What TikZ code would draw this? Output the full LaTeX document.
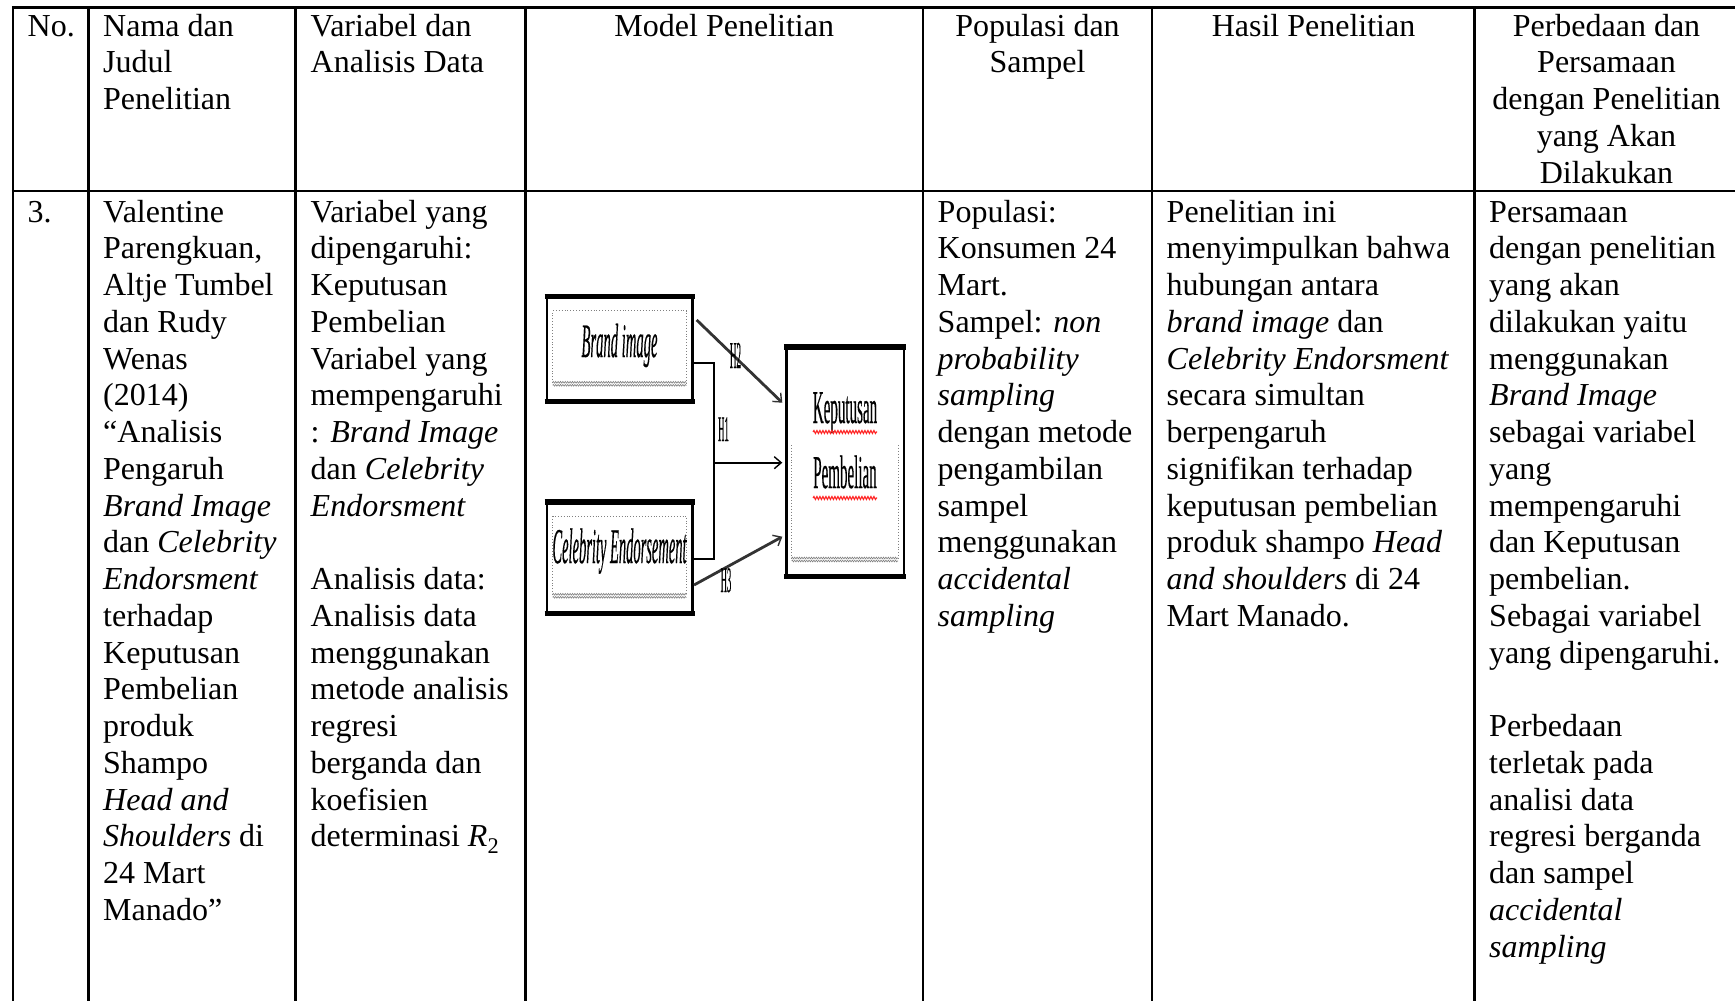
\documentclass[tikz,border=0pt]{standalone}
\usepackage{fontspec}
\setmainfont{Liberation Serif}
\newfontfamily\modelfont[FakeBold=0.6]{Liberation Serif}
\usepackage{graphicx}
\usetikzlibrary{arrows.meta,decorations.pathmorphing}

\newcommand\bodyfont{\fontsize{32}{36.75}\selectfont}
\newcommand\cellL[1]{\begin{tabular}[t]{@{}l@{}}#1\end{tabular}}
\newcommand\cellC[1]{\begin{tabular}[t]{@{}c@{}}#1\end{tabular}}
\newcommand\narrow[3]{\scalebox{#1}[1]{\modelfont\fontsize{#2}{#2}\selectfont #3}}

\begin{document}
\begin{tikzpicture}[x=1pt,y=-1pt,
  rule/.style={line width=2.5pt},
  cell/.style={anchor=base west, inner sep=0pt, font=\bodyfont},
  head/.style={anchor=base, inner sep=0pt, font=\bodyfont},
  varbox/.style={draw, line width=2.5pt, inner sep=0pt},
  heavybar/.style={line width=5.5pt},
  inner/.style={gray, dotted, line width=0.9pt},
  wavy/.style={gray, line width=0.6pt, decorate,
    decoration={zigzag, amplitude=0.9pt, segment length=2.4pt}},
  spell/.style={red!85, line width=1.2pt, decorate,
    decoration={snake, amplitude=1.4pt, segment length=3pt}},
  modeltext/.style={anchor=base, inner sep=0pt},
  hyplabel/.style={anchor=base, inner sep=0pt},
  link/.style={line width=1.8pt},
  hyparrow/.style={line width=2.8pt, black!80,
    -{Straight Barb[length=7pt, width=12pt, line width=1.4pt]}},
  mainarrow/.style={line width=1.8pt,
    -{Straight Barb[length=7pt, width=12pt, line width=1.4pt]}}
]
\useasboundingbox (0,0) rectangle (1735,1001);
\clip (0,0) rectangle (1735,1001);

% table rules
\draw[rule] (11.75,7.5) -- (1745,7.5);
\draw[rule] (11.75,191) -- (1745,191);
\foreach \x in {13,88.5,295.5,525.5,923,1152,1474.5}
  \draw[rule] (\x,6.25) -- (\x,1010);

% header row
\node[cell] (hno) at (27.5,36) {No.};
\node[cell] (hnama) at (103,36) {\cellL{Nama dan\\Judul\\Penelitian}};
\node[cell] (hvar) at (310.5,36) {\cellL{Variabel dan\\Analisis Data}};
\node[head] (hmodel) at (724.25,36) {Model Penelitian};
\node[head] (hpop) at (1037.5,36) {\cellC{Populasi dan\\Sampel}};
\node[head] (hhasil) at (1313.5,36) {Hasil Penelitian};
\node[head] (hbeda) at (1606.5,36) {\cellC{Perbedaan dan\\Persamaan\\dengan Penelitian\\yang Akan\\Dilakukan}};

% body row
\node[cell] (rno) at (27.5,222) {3.};
\node[cell] (rnama) at (103,222) {\cellL{Valentine\\Parengkuan,\\Altje Tumbel\\dan Rudy\\Wenas\\(2014)\\“Analisis\\Pengaruh\\\textit{Brand Image}\\dan \textit{Celebrity}\\\textit{Endorsment}\\terhadap\\Keputusan\\Pembelian\\produk\\Shampo\\\textit{Head and}\\\textit{Shoulders} di\\24 Mart\\Manado”}};
\node[cell] (rvar) at (310.5,222) {\cellL{Variabel yang\\dipengaruhi:\\Keputusan\\Pembelian\\Variabel yang\\mempengaruhi\\: \textit{Brand Image}\\dan \textit{Celebrity}\\\textit{Endorsment}\\ \\Analisis data:\\Analisis data\\menggunakan\\metode analisis\\regresi\\berganda dan\\koefisien\\determinasi \textit{R}\textsubscript{2}}};
\node[cell] (rpop) at (937.5,222) {\cellL{Populasi:\\Konsumen 24\\Mart.\\Sampel: \textit{non}\\\textit{probability}\\\textit{sampling}\\dengan metode\\pengambilan\\sampel\\menggunakan\\\textit{accidental}\\\textit{sampling}}};
\node[cell] (rhasil) at (1166.5,222) {\cellL{Penelitian ini\\menyimpulkan bahwa\\hubungan antara\\\textit{brand image} dan\\\textit{Celebrity Endorsment}\\secara simultan\\berpengaruh\\signifikan terhadap\\keputusan pembelian\\produk shampo \textit{Head}\\\textit{and shoulders} di 24\\Mart Manado.}};
\node[cell] (rbeda) at (1489,222) {\cellL{Persamaan\\dengan penelitian\\yang akan\\dilakukan yaitu\\menggunakan\\\textit{Brand Image}\\sebagai variabel\\yang\\mempengaruhi\\dan Keputusan\\pembelian.\\Sebagai variabel\\yang dipengaruhi.\\ \\Perbedaan\\terletak pada\\analisi data\\regresi berganda\\dan sampel\\\textit{accidental}\\\textit{sampling}}};

% research model: variable boxes
\node[varbox, minimum width=145.7pt, minimum height=102.5pt] (bi) at (619.85,349) {};
\node[varbox, minimum width=145.7pt, minimum height=108.8pt] (ce) at (619.85,557.85) {};
\node[varbox, minimum width=117.5pt, minimum height=226.8pt] (kp) at (845,461.85) {};
\foreach \b in {bi,ce,kp}{
  \draw[heavybar] ([xshift=-1.25pt]\b.north west) -- ([xshift=1.25pt]\b.north east);
  \draw[heavybar] ([xshift=-1.25pt]\b.south west) -- ([xshift=1.25pt]\b.south east);
}

% dotted frames inside the boxes
\draw[inner] (552.7,383) -- (552.7,310.7) -- (686.7,310.7) -- (686.7,383);
\draw[wavy] (552.7,382.3) -- (686.7,382.3);
\draw[wavy] (552.7,385.3) -- (686.7,385.3);
\draw[inner] (552.7,595) -- (552.7,516) -- (686.7,516) -- (686.7,595);
\draw[wavy] (552.7,594.3) -- (686.7,594.3);
\draw[wavy] (552.7,597.3) -- (686.7,597.3);
\draw[inner] (791.7,445) -- (791.7,558.5);
\draw[inner] (898,445) -- (898,558.5);
\draw[wavy] (791.7,558) -- (898,558);
\draw[wavy] (791.7,561) -- (898,561);

% box labels
\node[modeltext] (tbi) at (619.5,357) {\narrow{0.305}{48}{\itshape Brand image}};
\node[modeltext] (tce) at (619.5,563) {\narrow{0.29}{50}{\itshape Celebrity Endorsement}};
\node[modeltext] (tkp1) at (845,423) {\narrow{0.32}{47}{Keputusan}};
\node[modeltext] (tkp2) at (845,488) {\narrow{0.32}{47}{Pembelian}};
\draw[spell] (813,432) -- (877,432);
\draw[spell] (813,498) -- (877,498);

% connectors
\coordinate (j1) at (714,363);
\coordinate (j2) at (714,559);
\coordinate (jm) at (714,462.7);
\coordinate (h1end) at (782.3,462.7);
\coordinate (h2beg) at (696.7,320);
\coordinate (h2end) at (782.3,402.7);
\coordinate (h3beg) at (694,585);
\coordinate (h3end) at (782.3,536.7);
\draw[link] (bi.east |- j1) -- (j1) -- (j2) -- (ce.east |- j2);
\draw[mainarrow] (jm) -- (h1end);
\draw[hyparrow] (h2beg) -- (h2end);
\draw[hyparrow] (h3beg) -- (h3end);

% hypothesis labels
\node[hyplabel] (lh1) at (723.5,441) {\narrow{0.24}{36}{H1}};
\node[hyplabel] (lh2) at (735.5,368) {\narrow{0.24}{38}{H2}};
\node[hyplabel] (lh3) at (726,592) {\narrow{0.24}{36}{H3}};
\end{tikzpicture}
\end{document}
